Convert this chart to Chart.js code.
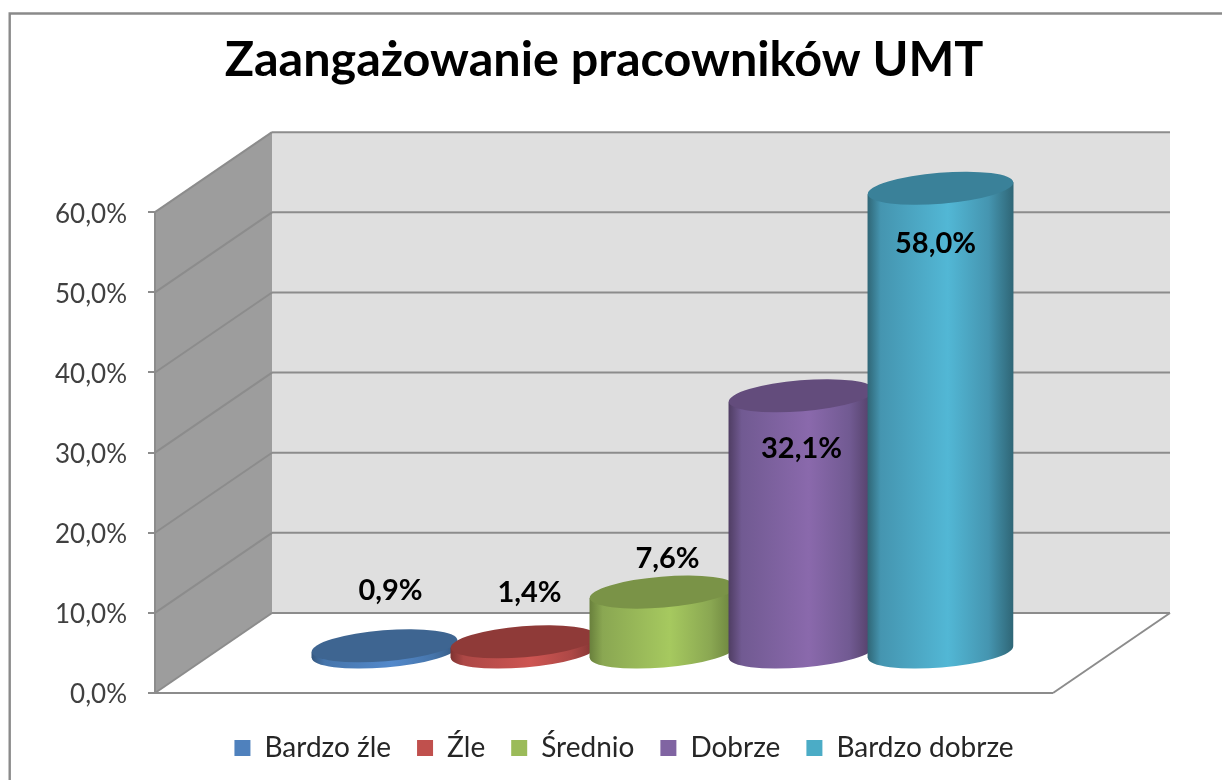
<!DOCTYPE html>
<html>
<head>
<meta charset="utf-8">
<style>
  html, body { margin: 0; padding: 0; background: #fff; }
  #wrap { width: 1222px; height: 780px; }
  canvas { filter: blur(0.4px); }
</style>
<script src="https://cdn.jsdelivr.net/npm/chart.js@4"></script>
</head>
<body>
<div id="wrap"><canvas id="chart" width="1222" height="780"></canvas></div>
<script>
const title = "Zaangażowanie pracowników UMT";
const categories = ["Bardzo źle", "Źle", "Średnio", "Dobrze", "Bardzo dobrze"];
const values = [0.9, 1.4, 7.6, 32.1, 58.0];
const yTicks = [0, 10, 20, 30, 40, 50, 60];

const legendColors = ["#4f81bd", "#c0504d", "#9bbb59", "#8064a2", "#4bacc6"];
const topColors = ["#3e6591", "#8f3a38", "#7a9347", "#634c7c", "#3a8199"];
const peakColors = ["#5389cb", "#cd5552", "#a6c95f", "#8a69ac", "#52b7d5"];
const midColors = ["#4675ab", "#ad4846", "#8aa752", "#715a92", "#4595b0"];
const edgeColors = ["#35587f", "#7f3331", "#69803c", "#4f3d63", "#2f6676"];

//how far the back wall sits behind the front axis
const depthX = 117;
const depthY = -80;
const gridColor = "#8c8c8c";

//labels were moved by hand in the original, so each one has its own nudge
const labelNudge = [[6, -55], [6, -49], [5, -33], [0, 53], [-5, 55]];

const pct = (v) => v.toFixed(1).replace(".", ",") + "%";

function line(ctx, x1, y1, x2, y2) {
  ctx.beginPath();
  ctx.moveTo(x1, y1);
  ctx.lineTo(x2, y2);
  ctx.stroke();
}

//frame, walls and floor go under the scales
const wallsPlugin = {
  id: "walls",
  beforeDraw(chart) {
    const { ctx, chartArea: a } = chart;
    const y = chart.scales.y;
    ctx.save();

    ctx.strokeStyle = "#8a8a8a";
    ctx.lineWidth = 2.4;
    ctx.beginPath();
    ctx.moveTo(9.7, chart.height);
    ctx.lineTo(9.7, 13.5);
    ctx.lineTo(chart.width, 13.5);
    ctx.stroke();

    //back wall
    ctx.fillStyle = "#dfdfdf";
    ctx.fillRect(a.left + depthX, a.top + depthY, a.right - a.left, a.bottom - a.top);

    //left wall
    ctx.fillStyle = "#9d9d9d";
    ctx.beginPath();
    ctx.moveTo(a.left, a.top);
    ctx.lineTo(a.left + depthX, a.top + depthY);
    ctx.lineTo(a.left + depthX, a.bottom + depthY);
    ctx.lineTo(a.left, a.bottom);
    ctx.closePath();
    ctx.fill();

    //floor
    ctx.fillStyle = "#ffffff";
    ctx.beginPath();
    ctx.moveTo(a.left, a.bottom);
    ctx.lineTo(a.right, a.bottom);
    ctx.lineTo(a.right + depthX, a.bottom + depthY);
    ctx.lineTo(a.left + depthX, a.bottom + depthY);
    ctx.closePath();
    ctx.fill();

    ctx.strokeStyle = gridColor;
    ctx.lineWidth = 2;
    yTicks.forEach((t) => {
      const py = y.getPixelForValue(t);
      line(ctx, a.left, py, a.left + depthX, py + depthY);
      line(ctx, a.left + depthX, py + depthY, a.right + depthX, py + depthY);
    });
    line(ctx, a.left, a.bottom, a.right, a.bottom);
    line(ctx, a.right, a.bottom, a.right + depthX, a.bottom + depthY);
    ctx.restore();
  },
};

//actually a plain bar chart, the bars are replaced by cylinders here
const cylinderPlugin = {
  id: "cylinders",
  beforeDatasetsDraw(chart) {
    const { ctx } = chart;
    const tilt = (-4.7 * Math.PI) / 180;

    chart.data.datasets.forEach((ds, i) => {
      const bar = chart.getDatasetMeta(i).data[0];
      const cx = bar.x + depthX / 2;
      const topY = bar.y + depthY / 2;
      const baseY = bar.base + depthY / 2;
      const rx = bar.width * 0.525;
      const ry = 15.5;

      const grad = ctx.createLinearGradient(cx - rx, 0, cx + rx, 0);
      grad.addColorStop(0, edgeColors[i]);
      grad.addColorStop(0.09, midColors[i]);
      grad.addColorStop(0.55, peakColors[i]);
      grad.addColorStop(0.83, midColors[i]);
      grad.addColorStop(1, edgeColors[i]);

      const dy = rx * Math.sin(-tilt);
      ctx.save();
      ctx.fillStyle = grad;
      ctx.beginPath();
      ctx.moveTo(cx - rx, topY + dy);
      ctx.lineTo(cx - rx, baseY + dy);
      ctx.ellipse(cx, baseY, rx, ry, tilt, Math.PI, 0, true);
      ctx.lineTo(cx + rx, topY - dy);
      ctx.closePath();
      ctx.fill();

      ctx.fillStyle = topColors[i];
      ctx.beginPath();
      ctx.ellipse(cx, topY, rx, ry, tilt, 0, Math.PI * 2);
      ctx.fill();
      ctx.restore();
    });

    ctx.save();
    ctx.fillStyle = "#000";
    ctx.font = "bold 29px Lato";
    ctx.textAlign = "center";
    ctx.textBaseline = "middle";
    chart.data.datasets.forEach((ds, i) => {
      const bar = chart.getDatasetMeta(i).data[0];
      ctx.fillText(
        pct(ds.data[0]),
        bar.x + depthX / 2 + labelNudge[i][0],
        bar.y + depthY / 2 + labelNudge[i][1]
      );
    });
    ctx.restore();

    //skip the flat bars
    return false;
  },
};

new Chart(document.getElementById("chart"), {
  type: "bar",
  data: {
    labels: [""],
    datasets: categories.map((name, i) => ({
      label: name,
      data: [values[i]],
      backgroundColor: legendColors[i],
      borderWidth: 0,
      categoryPercentage: 0.774,
      barPercentage: 1,
    })),
  },
  plugins: [wallsPlugin, cylinderPlugin],
  options: {
    responsive: false,
    animation: false,
    layout: { padding: { left: 26, right: 0, top: 0, bottom: 8 } },
    plugins: {
      tooltip: { enabled: false },
      title: {
        display: true,
        fullSize: false,
        text: title,
        color: "#000",
        font: { family: "Lato", size: 48.5, weight: "bold", lineHeight: 1.2 },
        padding: { top: 31, bottom: 123 },
      },
      legend: {
        position: "bottom",
        labels: {
          font: { family: "Lato", size: 28 },
          color: "#262626",
          boxWidth: 16,
          boxHeight: 16,
          padding: 26,
        },
      },
    },
    scales: {
      x: {
        ticks: { display: false },
        grid: { display: false },
        border: { display: false },
        afterFit: (s) => { s.height = 15; },
      },
      y: {
        min: 0,
        max: 60,
        afterFit: (s) => { s.width = 129; },
        afterBuildTicks: (s) => { s.ticks = yTicks.map((v) => ({ value: v })); },
        ticks: {
          callback: (v) => pct(v),
          color: "#404040",
          font: { family: "Lato", size: 26 },
          padding: 21,
          labelOffset: 2,
        },
        grid: { drawOnChartArea: false, tickLength: 7, color: gridColor, lineWidth: 2 },
        border: { color: gridColor, width: 2 },
      },
      //empty axis, only keeps the room for the floor on the right
      spacer: {
        type: "linear",
        position: "right",
        ticks: { display: false },
        grid: { display: false },
        border: { display: false },
        afterFit: (s) => { s.width = 169; },
      },
    },
  },
});
</script>
</body>
</html>
